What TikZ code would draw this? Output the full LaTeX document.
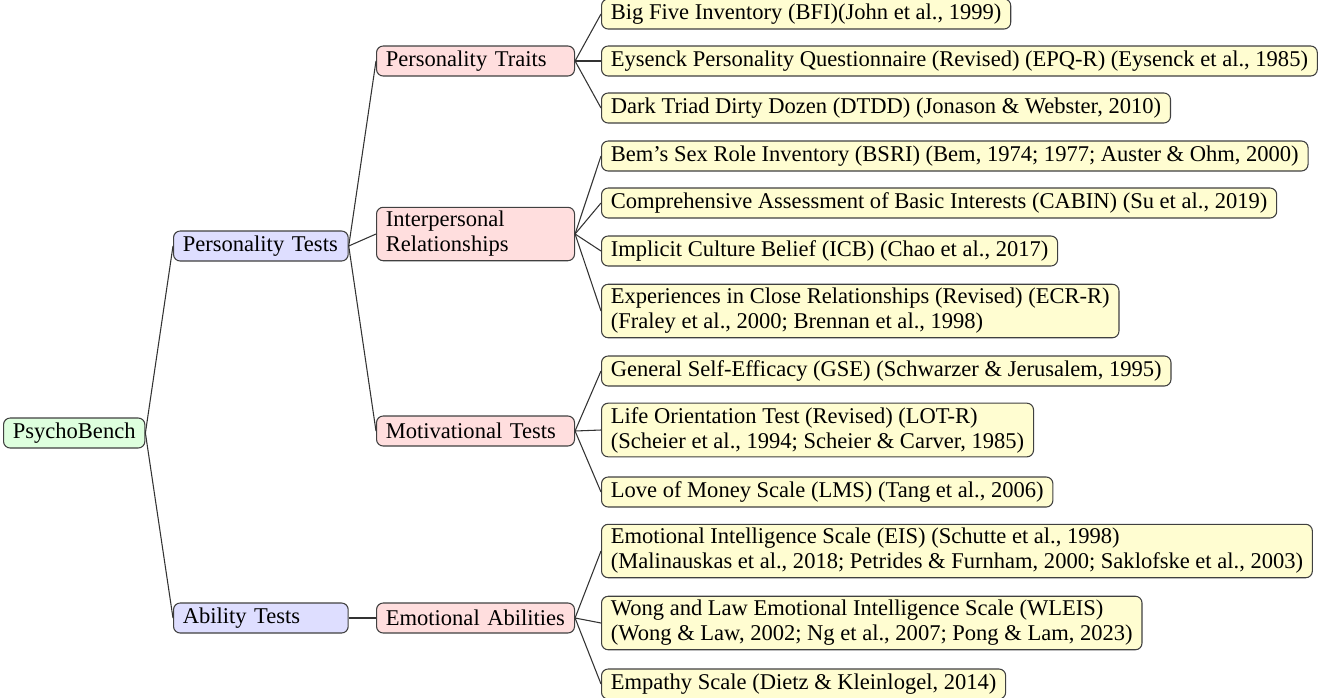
\documentclass[tikz,border=0pt]{standalone}
\usepackage{fontspec}
\setmainfont{Liberation Serif}

\tikzset{every picture/.style={line width=0.75pt}}
\tikzset{
  box/.style={draw=black!75, line width=0.8pt, rounded corners=5pt, anchor=west, align=left,
    inner xsep=7pt, inner ysep=3pt, minimum height=22.5pt,
    font=\fontsize{16.9}{18.75}\selectfont},
  rootbox/.style={box, fill=green!13},
  testbox/.style={box, fill=blue!13, text width=117pt},
  groupbox/.style={box, fill=red!13, text width=134.5pt},
  itembox/.style={box, fill=yellow!18},
  link/.style={draw=black!80, line width=0.8pt}
}

\begin{document}
\begin{tikzpicture}[x=0.75pt,y=0.75pt,yscale=-1,xscale=1]
\useasboundingbox (0,0) rectangle (1332,697);

% Root
\node [rootbox] (bench) at (3,433) {PsychoBench};

% Test types
\node [testbox] (perstests) at (173,246) {Personality Tests};
\node [testbox] (abiltests) at (173,618) {Ability Tests};

% Groups
\node [groupbox] (traits) at (376,61) {Personality Traits};
\node [groupbox] (inter) at (376,234) {Interpersonal\\Relationships};
\node [groupbox] (motiv) at (376,431) {Motivational Tests};
\node [groupbox] (emot) at (376,618) {Emotional Abilities};

% Scales
\node [itembox] (bfi) at (601,14) {Big Five Inventory (BFI)(John et al., 1999)};
\node [itembox] (epqr) at (601,61) {Eysenck Personality Questionnaire (Revised) (EPQ-R) (Eysenck et al., 1985)};
\node [itembox] (dtdd) at (601,108) {Dark Triad Dirty Dozen (DTDD) (Jonason \& Webster, 2010)};
\node [itembox] (bsri) at (601,156) {Bem’s Sex Role Inventory (BSRI) (Bem, 1974; 1977; Auster \& Ohm, 2000)};
\node [itembox] (cabin) at (601,203) {Comprehensive Assessment of Basic Interests (CABIN) (Su et al., 2019)};
\node [itembox] (icb) at (601,251) {Implicit Culture Belief (ICB) (Chao et al., 2017)};
\node [itembox] (ecrr) at (601,311) {Experiences in Close Relationships (Revised) (ECR-R)\\(Fraley et al., 2000; Brennan et al., 1998)};
\node [itembox] (gse) at (601,371) {General Self-Efficacy (GSE) (Schwarzer \& Jerusalem, 1995)};
\node [itembox] (lotr) at (601,430) {Life Orientation Test (Revised) (LOT-R)\\(Scheier et al., 1994; Scheier \& Carver, 1985)};
\node [itembox] (lms) at (601,492) {Love of Money Scale (LMS) (Tang et al., 2006)};
\node [itembox] (eis) at (601,551) {Emotional Intelligence Scale (EIS) (Schutte et al., 1998)\\(Malinauskas et al., 2018; Petrides \& Furnham, 2000; Saklofske et al., 2003)};
\node [itembox] (wleis) at (601,623) {Wong and Law Emotional Intelligence Scale (WLEIS)\\(Wong \& Law, 2002; Ng et al., 2007; Pong \& Lam, 2023)};
\node [itembox] (empathy) at (601,684) {Empathy Scale (Dietz \& Kleinlogel, 2014)};

%Straight Lines
\foreach \a/\b in {bench/perstests, bench/abiltests,
    perstests/traits, perstests/inter, perstests/motiv, abiltests/emot,
    traits/bfi, traits/epqr, traits/dtdd,
    inter/bsri, inter/cabin, inter/icb, inter/ecrr,
    motiv/gse, motiv/lotr, motiv/lms,
    emot/eis, emot/wleis, emot/empathy}
  \draw [link] (\a.east) -- (\b.west);

\end{tikzpicture}
\end{document}
